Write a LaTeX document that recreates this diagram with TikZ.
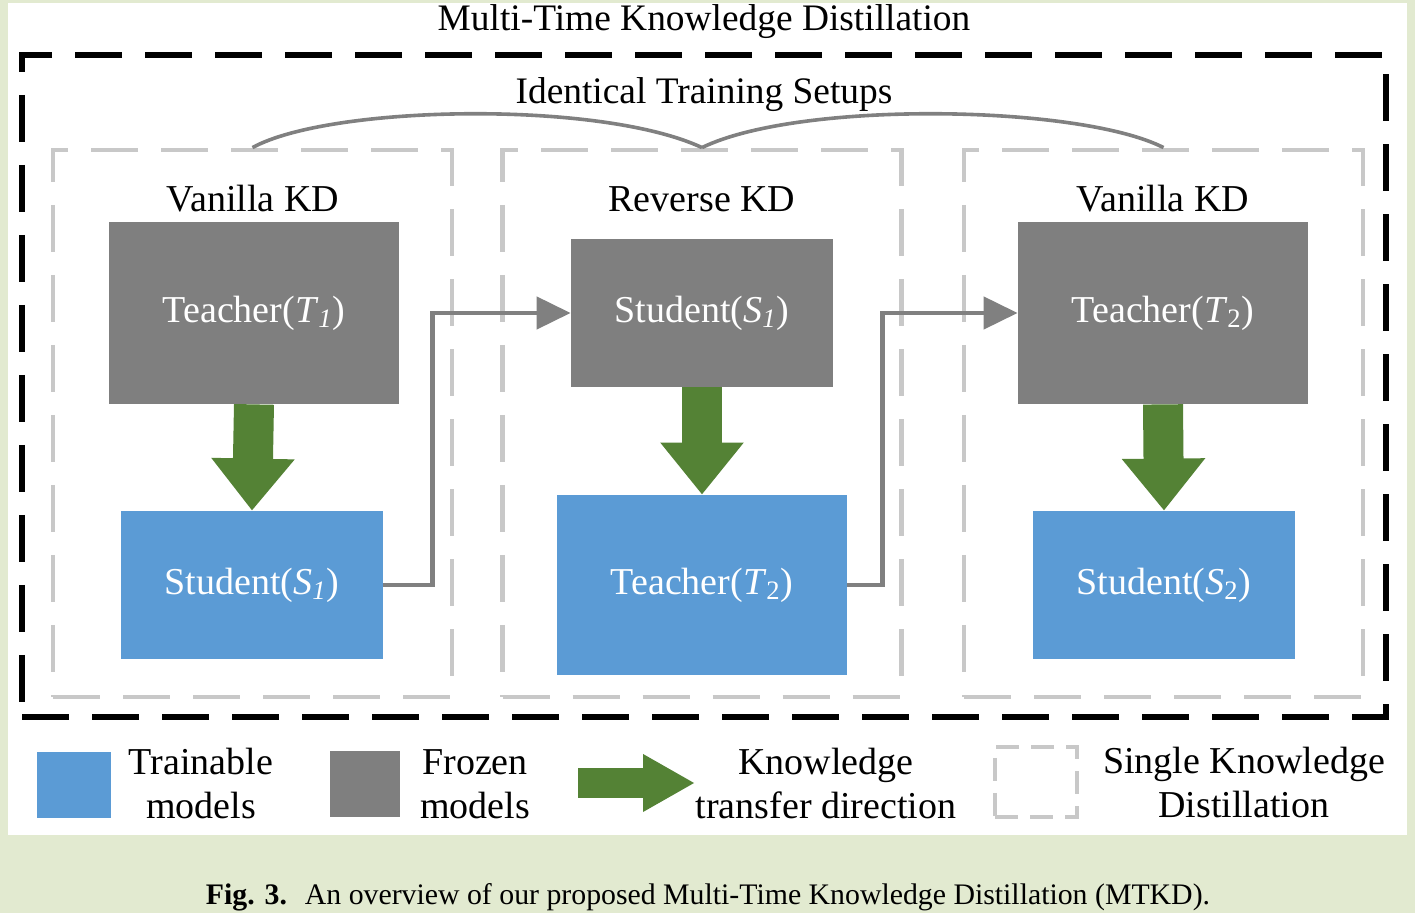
\documentclass[tikz,border=0pt]{standalone}
\usepackage{fontspec}
\setmainfont{Liberation Serif}
\usetikzlibrary{arrows.meta,positioning}
\definecolor{pagegreen}{HTML}{E2EAD0}
\definecolor{frozengrey}{HTML}{7F7F7F}
\definecolor{trainblue}{HTML}{5B9BD5}
\definecolor{kdgreen}{HTML}{548235}
\definecolor{dashgrey}{HTML}{C8C8C8}
\definecolor{linkgrey}{HTML}{808080}
\tikzset{
  % ---- model blocks ---------------------------------------------------
  mbox/.style={inner sep=0pt, text=white, font=\fontsize{19}{22}\selectfont},
  mbig/.style={mbox, minimum width=145pt, minimum height=91pt},
  msmall/.style={mbox, minimum width=131pt, minimum height=74pt},
  mfrozen/.style={fill=frozengrey},
  mtrain/.style={fill=trainblue},
  % ---- frames ---------------------------------------------------------
  mkd/.style={draw=dashgrey, line width=2.4pt, dash pattern=on 23.5pt off 11.5pt,
              minimum width=199.5pt, minimum height=273.5pt, inner sep=0pt},
  mouter/.style={draw=black, line width=2.8pt, dash pattern=on 23.5pt off 11.5pt,
                 minimum width=682pt, minimum height=331pt, inner sep=0pt},
  % ---- text -----------------------------------------------------------
  mlabel/.style={font=\fontsize{19}{22}\selectfont, align=center, inner sep=0pt},
  mtitle/.style={font=\fontsize{18.7}{21}\selectfont, inner sep=0pt},
  % ---- connections ----------------------------------------------------
  mflow/.style={-{Triangle[length=26pt,width=40pt]}, draw=kdgreen, line width=20pt},
  mlink/.style={-{Triangle[length=17pt,width=16pt]}, draw=linkgrey, line width=2.3pt},
  mbrace/.style={draw=linkgrey, line width=1.8pt},
}

\begin{document}
\begin{tikzpicture}[x=0.5pt, y=-0.5pt]

% ---- page and panel --------------------------------------------------
\useasboundingbox (0,0) rectangle (1415,913);
\fill[pagegreen] (0,0) rectangle (1415,913);
\fill[white] (8,3) rectangle (1407,835);

% ---- frames ----------------------------------------------------------
\node[mkd] (kd1) at (252.5,423.5) {};
\node[mkd] (kd2) at (702,423.5) {};
\node[mkd] (kd3) at (1163.5,423.5) {};
\node[mouter] (mtkd) at (704,386) {};

\node[mtitle] (title) at (704,22) {Multi-Time Knowledge Distillation};
\node[mtitle] (same) at (704,95) {Identical Training Setups};
\draw[mbrace] (kd1.north) .. controls (330,105) and (600,100) .. (kd2.north);
\draw[mbrace] (kd2.north) .. controls (800,100) and (1080,105) .. (kd3.north);

\node[mlabel] (head1) at (253,199) {Vanilla KD};
\node[mlabel] (head2) at (702,199) {Reverse KD};
\node[mlabel] (head3) at (1163,199) {Vanilla KD};

% ---- models ----------------------------------------------------------
\node[mbig, mfrozen] (t1) at (254,313) {Teacher(\textit{T}\textsubscript{\textit{1}})};
\node[msmall, mtrain] (s1) at (252,585) {Student(\textit{S}\textsubscript{\textit{1}})};
\node[msmall, mfrozen] (s1b) at (702,313) {Student(\textit{S}\textsubscript{\textit{1}})};
\node[mbig, mtrain, minimum height=90pt] (t2) at (702,585) {Teacher(\textit{T}\textsubscript{2})};
\node[mbig, mfrozen] (t2b) at (1163,313) {Teacher(\textit{T}\textsubscript{2})};
\node[msmall, mtrain] (s2) at (1164,585) {Student(\textit{S}\textsubscript{2})};

% ---- knowledge transfer ----------------------------------------------
\draw[mflow] (t1.south) -- (s1.north);
\draw[mflow] (s1b.south) -- (t2.north);
\draw[mflow] (t2b.south) -- (s2.north);

\draw[mlink] (s1.east) -- ++(49,0) |- (s1b.west);
\draw[mlink] (t2.east) -- ++(35,0) |- (t2b.west);

% ---- legend ----------------------------------------------------------
\node[mtrain, minimum width=37pt, minimum height=33pt] (legtrain) at (74,785) {};
\node[mlabel] (legtraintxt) at (201,784) {Trainable\\models};
\node[mfrozen, minimum width=35pt, minimum height=33pt] (legfrozen) at (365,784) {};
\node[mlabel] (legfrozentxt) at (475,784) {Frozen\\models};
\coordinate (legflowa) at (578,783);
\coordinate (legflowb) at (695,783);
\draw[mflow, line width=15pt, -{Triangle[length=26pt,width=27pt]}] (legflowa) -- (legflowb);
\node[mlabel] (legflowtxt) at (826,784) {Knowledge\\transfer direction};
\node[draw=dashgrey, line width=2.2pt, dash pattern=on 11.5pt off 6pt,
      minimum width=41pt, minimum height=35pt] (legkd) at (1036,782) {};
\node[mlabel] (legkdtxt) at (1244,783) {Single Knowledge\\Distillation};

% ---- caption ---------------------------------------------------------
\node[font=\fontsize{14.9}{17}\selectfont, inner sep=0pt] (caption) at (708,897)
  {\textbf{Fig. 3.}\hspace{0.6em}An overview of our proposed Multi-Time Knowledge Distillation (MTKD).};

\end{tikzpicture}
\end{document}
